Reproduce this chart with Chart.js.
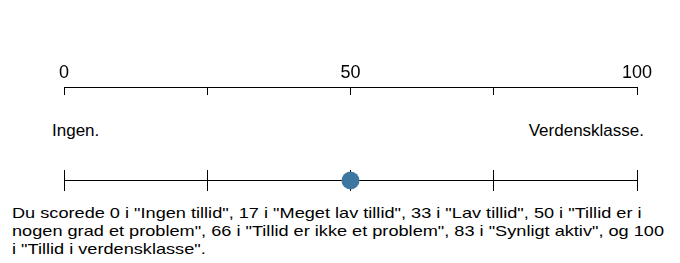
<!DOCTYPE html>
<html>
<head>
<meta charset="utf-8">
<script src="https://cdn.jsdelivr.net/npm/chart.js@4"></script>
<style>
  html,body{margin:0;padding:0;background:#fff;}
  body{width:680px;height:263px;position:relative;overflow:hidden;font-family:"Liberation Sans",Arial,sans-serif;color:#000;}
  canvas{position:absolute;left:0;}
  #scaleChart{top:0;}
  #scoreChart{top:160px;}
  .endLabel{position:absolute;top:121px;font-size:17px;line-height:20px;}
  #lowLabel{left:52px;}
  #highLabel{right:36px;}
  #caption{position:absolute;left:12px;top:204px;white-space:nowrap;font-size:15px;line-height:18px;transform:scaleX(1.21);transform-origin:0 0;}
</style>
</head>
<body>
<canvas id="scaleChart" width="680" height="95"></canvas>
<div class="endLabel" id="lowLabel"></div>
<div class="endLabel" id="highLabel"></div>
<canvas id="scoreChart" width="680" height="40"></canvas>
<div id="caption"></div>
<script>
// scale 0..100, labelled every 50, tick every 25
const scaleMin = 0;
const scaleMax = 100;
const tickStep = 25;
const labelledTicks = [0, 50, 100];
const endLabels = ['Ingen.', 'Verdensklasse.'];
const lineX = [0, 100];
const score = 50;
const captionLines = [
  'Du scorede 0 i "Ingen tillid", 17 i "Meget lav tillid", 33 i "Lav tillid", 50 i "Tillid er i',
  'nogen grad et problem", 66 i "Tillid er ikke et problem", 83 i "Synligt aktiv", og 100',
  'i "Tillid i verdensklasse".'
];

const dotColor = '#3d77a1';

document.getElementById('lowLabel').textContent = endLabels[0];
document.getElementById('highLabel').textContent = endLabels[1];
document.getElementById('caption').innerHTML = captionLines.map(l => l.replace(/&/g,'&amp;').replace(/</g,'&lt;')).join('<br>');

const pad = {left:64, right:43};

// top scale: labels above, short ticks hanging below the line (grid inside a thin chart area)
new Chart(document.getElementById('scaleChart'), {
  type:'scatter',
  data:{datasets:[{data:[]}]},
  options:{
    responsive:false,
    animation:false,
    layout:{padding:{left:pad.left, right:pad.right, top:0, bottom:0}},
    plugins:{legend:{display:false}, tooltip:{enabled:false}},
    scales:{
      x:{
        type:'linear', position:'top', min:scaleMin, max:scaleMax,
        ticks:{stepSize:tickStep, padding:3, color:'#000', font:{family:'Liberation Sans', size:18},
          callback:v => labelledTicks.includes(v) ? String(v) : ''},
        grid:{drawOnChartArea:true, drawTicks:false, color:'#000', lineWidth:1},
        border:{display:true, color:'#000', width:1},
        afterFit:s => { s.height = 87; }
      },
      y:{display:false, min:0, max:1}
    }
  }
});

// score row: line with crossing ticks and the dot
new Chart(document.getElementById('scoreChart'), {
  type:'scatter',
  data:{datasets:[
    {data:[{x:score, y:0}], pointRadius:9, pointHoverRadius:9, backgroundColor:dotColor, borderWidth:0},
    {type:'line', data:lineX.map(x => ({x, y:0})), borderColor:'#000', borderWidth:1, pointRadius:0, fill:false}
  ]},
  options:{
    responsive:false,
    animation:false,
    layout:{padding:{left:pad.left, right:pad.right, top:10, bottom:8}},
    plugins:{legend:{display:false}, tooltip:{enabled:false}},
    scales:{
      x:{
        type:'linear', position:'bottom', min:scaleMin, max:scaleMax,
        ticks:{stepSize:tickStep, display:false},
        grid:{drawOnChartArea:true, drawTicks:false, color:'#000', lineWidth:1},
        border:{display:false},
        afterFit:s => { s.height = 0; }
      },
      y:{display:false, min:-1, max:1}
    }
  }
});
</script>
</body>
</html>
